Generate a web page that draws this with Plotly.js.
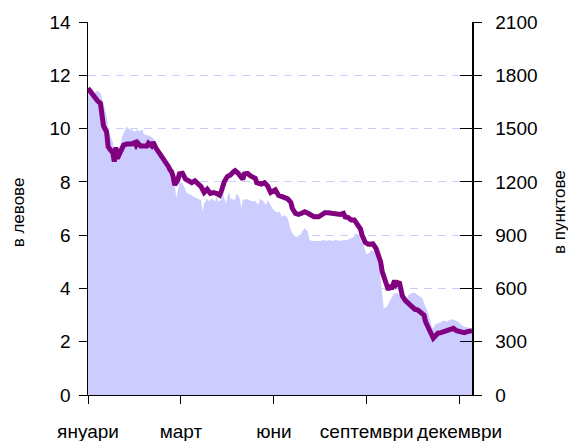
<!DOCTYPE html>
<html>
<head>
<meta charset="utf-8">
<script src="https://cdn.plot.ly/plotly-3.0.1.min.js"></script>
<style>html,body{margin:0;padding:0;background:#fff;}#chart{width:568px;height:441px;}</style>
</head>
<body>
<div id="chart"></div>
<script>
// Trading-day index (category position) and share price, лв (left axis)
const priceDay = [0,2,4,6,8,9,10,12,13,14.5,16,17,18,19,20,22,23,25,27,28,30,31,32,34,38,39,41,42,44,47,49,50,52,53,54,55,56,58,59,61,63,65,67,69,71,73,75,77,79,81,83,85,86,88,90,92,94,95,97,98,100,101,103,105,108,109,112,114,116,118,121,123,125,127,129,131,132,134,136,138,140,142,144,146,149,151,153,155,157,160,163,165,166,168,170,172,174,176,177,179,181,184,186,187,188,189,190,192,193,194,195,196,198,199,201,202,203,205,207,209,211,213,215,217,218,220,221,223,224,226,228,230,232,234,236,238,241,243,245,248];
const priceBGN = [11.51,11.35,11.14,11.05,10.95,10.57,10.1,9.88,9.32,9.2,9.1,8.76,9.3,8.88,9.0,9.2,9.38,9.42,9.42,9.42,9.47,9.37,9.47,9.35,9.35,9.45,9.35,9.49,9.26,9.0,8.88,8.82,8.57,8.45,8.38,8.2,7.88,8.07,8.3,8.32,8.1,8.04,7.97,8.04,7.94,7.82,7.6,7.72,7.57,7.6,7.57,7.5,7.63,8.0,8.2,8.26,8.38,8.42,8.32,8.22,8.1,8.3,8.32,8.22,8.13,7.97,7.92,7.97,7.85,7.6,7.7,7.5,7.45,7.38,7.36,7.23,7.0,6.82,6.78,6.82,6.88,6.82,6.73,6.69,6.69,6.76,6.84,6.84,6.82,6.78,6.78,6.82,6.69,6.66,6.57,6.57,6.41,6.23,6.0,5.73,5.66,5.67,5.5,5.32,5.19,5.0,4.63,4.32,4.07,3.94,4.13,3.97,4.29,4.13,4.25,4.0,3.72,3.54,3.44,3.31,3.22,3.19,3.09,3.0,2.75,2.5,2.32,2.13,2.19,2.32,2.34,2.38,2.41,2.47,2.5,2.41,2.38,2.34,2.38,2.41];

// Trading-day index and index level, пунктове (right axis)
const indexDay = [0,4,6,8,10,11,12,13,14,15,16,17,18,19,21,22,24,25,27,28,30,32,33,35,36,38,40,42,43,45,47,49,50,53,54,55,56,57,58,59,60,62,64,67,69,71,73,74,75,77,78,80,82,83,84,86,87,88,89,91,92,95,96,98,99,100,102,104,106,108,110,111,113,115,116,118,119,122,124,125,127,129,130,131,132,134,136,137,139,140,142,143,145,147,150,152,154,156,158,160,163,165,167,169,171,173,175,176,178,179,180,182,183,185,187,188,189,190,191,193,194,196,197,198,200,202,203,206,207,209,211,212,214,216,217,219,221,222,223,224,226,228,230,232,234,236,239,241,243,245,247,248];
const indexPts = [1733,1700,1713,1700,1643,1605,1568,1511,1464,1446,1427,1361,1398,1370,1407,1455,1493,1511,1493,1496,1482,1493,1482,1496,1470,1464,1458,1445,1436,1398,1370,1343,1332,1286,1248,1211,1182,1107,1164,1193,1200,1173,1136,1125,1113,1107,1098,1032,1080,1103,1089,1107,1089,1121,1089,1098,1145,1107,1080,1145,1107,1098,1136,1107,1050,1098,1103,1098,1089,1094,1070,1103,1094,1070,1098,1070,1050,1028,1032,1004,1014,995,957,929,911,891,891,900,929,939,920,873,867,867,867,873,867,873,867,873,867,873,873,879,885,911,900,873,845,812,789,804,816,807,779,723,648,554,488,497,516,551,563,573,573,558,536,545,563,573,576,569,558,545,516,479,423,384,375,395,404,413,419,413,426,423,413,395,384,381,371,368];

const tickDays = [0,60,120,180,240];
const tickMonths = ['януари','март','юни','септември','декември'];
const leftTicks = [0,2,4,6,8,10,12,14];
const rightTicks = [0,300,600,900,1200,1500,1800,2100];
const leftTitle = 'в левове';
const rightTitle = 'в пунктове';

const FONT = '"Liberation Sans", Arial, sans-serif';

const traces = [
  {x: indexDay, y: indexPts, type: 'scatter', mode: 'lines', fill: 'tozeroy',
   fillcolor: '#CCCCFF', line: {width: 0, color: '#CCCCFF'}, xaxis: 'x', yaxis: 'y', hoverinfo: 'skip'},
  {x: [], y: [], type: 'scatter', mode: 'lines', xaxis: 'x', yaxis: 'y3', hoverinfo: 'skip'},
  {x: priceDay, y: priceBGN, type: 'scatter', mode: 'lines',
   line: {width: 5, color: '#800080'}, xaxis: 'x', yaxis: 'y2', hoverinfo: 'skip'}
];

const layout = {
  width: 568, height: 441,
  margin: {l: 88, r: 96, t: 22, b: 46, pad: 0},
  paper_bgcolor: '#fff', plot_bgcolor: '#fff',
  showlegend: false,
  font: {family: FONT, size: 19, color: '#000'},
  xaxis: {
    range: [0, 248], tickmode: 'array', tickvals: tickDays, ticktext: tickMonths,
    tickangle: 0,
    ticks: 'outside', ticklen: 8, tickcolor: '#000', tickwidth: 1,
    showline: true, linecolor: '#000', linewidth: 1, showgrid: false, zeroline: false,
    ticklabelstandoff: 11, tickfont: {family: FONT, size: 19, color: '#000'}
  },
  yaxis: {
    side: 'right', range: [0, 2100], tickmode: 'array', tickvals: rightTicks,
    ticks: 'outside', ticklen: 8, tickcolor: '#000', tickwidth: 1,
    showline: true, linecolor: '#000', linewidth: 1.5,
    showgrid: true, gridcolor: '#CCCCFF', griddash: '8px,6px', gridwidth: 1, zeroline: false,
    ticklabelstandoff: 10, tickfont: {family: FONT, size: 19, color: '#000'}
  },
  yaxis2: {
    side: 'left', overlaying: 'y', range: [0, 14], tickmode: 'array', tickvals: leftTicks,
    ticks: 'outside', ticklen: 8, tickcolor: '#000', tickwidth: 1,
    showline: true, linecolor: '#000', linewidth: 1.5, showgrid: false, zeroline: false,
    ticklabelstandoff: 4, tickfont: {family: FONT, size: 19, color: '#000'}
  },
  yaxis3: {
    side: 'right', overlaying: 'y', range: [0, 2100], tickmode: 'array', tickvals: rightTicks,
    ticks: 'inside', ticklen: 12, tickcolor: '#000', tickwidth: 1,
    showticklabels: false, showline: false, showgrid: false, zeroline: false
  },
  annotations: [
    {text: leftTitle, xref: 'paper', yref: 'paper', x: -0.182, y: 0.49, textangle: -90,
     xanchor: 'center', yanchor: 'middle', showarrow: false, font: {family: FONT, size: 17, color: '#000'}},
    {text: rightTitle, xref: 'paper', yref: 'paper', x: 1.226, y: 0.49, textangle: -90,
     xanchor: 'center', yanchor: 'middle', showarrow: false, font: {family: FONT, size: 17, color: '#000'}}
  ]
};

Plotly.newPlot('chart', traces, layout, {staticPlot: true, displayModeBar: false});
</script>
</body>
</html>
